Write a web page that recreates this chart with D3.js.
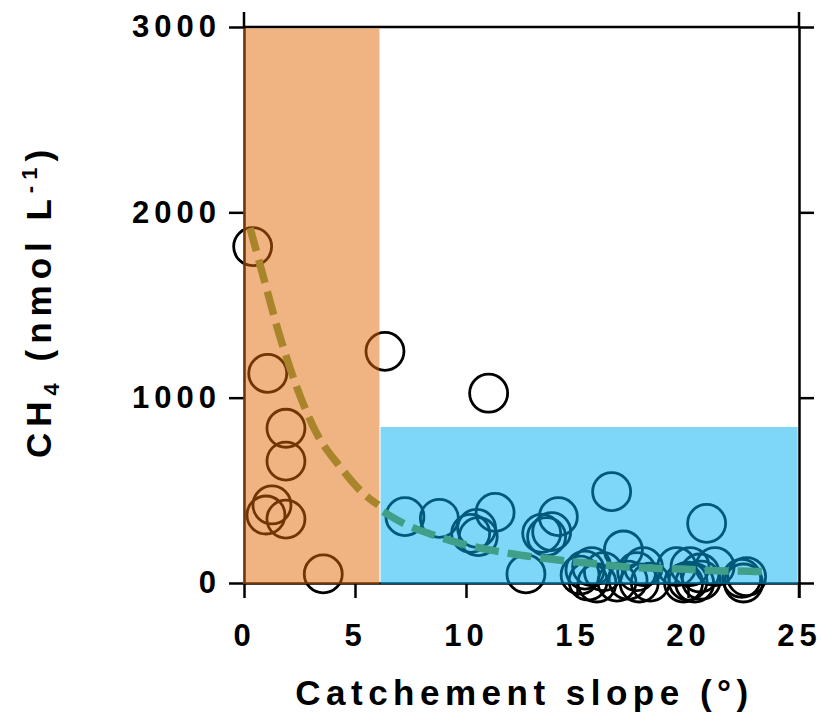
<!DOCTYPE html>
<html>
<head>
<meta charset="utf-8">
<script src="https://cdn.jsdelivr.net/npm/d3@7"></script>
<style>
body { margin: 0; background: #fff; }
text { font-family: "Liberation Sans", Arial, sans-serif; font-weight: bold; }
</style>
</head>
<body>
<div id="chart"></div>
<script>
// Catchement slope (deg) vs CH4 (nmol/L), one entry per site
const slope = [0.39, 1.07, 1.89, 1.89, 1.26, 0.99, 1.89, 3.57,
    6.35, 11.02,
    7.25, 8.8, 10.21, 10.48, 10.55, 11.31, 12.7, 13.41, 13.63, 13.86, 14.16, 16.56, 17.09, 20.84,
    15.14, 15.36, 15.66, 16.19, 17.69, 17.99, 19.49, 20.09, 20.54, 21.22, 22.42, 22.64,
    15.5, 15.9, 16.8, 17.3, 17.8, 18.3, 19.8, 20.0, 20.3, 20.6, 22.5];
const ch4 = [1815, 1131, 835, 658, 421, 367, 345, 49,
    1250, 1024,
    358, 349, 268, 295, 250, 381, 49, 268, 250, 277, 358, 493, 178, 322,
    43, 70, 88, 61, 61, 88, 88, 88, 54, 88, 25, 34,
    10, 0, 5, 15, 0, 5, 0, 10, 0, 15, 0];

// shaded slope classes
const bandStart = [0, 6.15];
const bandEnd = [6.1, 25];
const bandTop = [3000, 842];

// fitted decay curves
const gentleSlope = [0.27, 0.87, 1.62, 2.37, 3.27, 4.32, 5.37, 6.05];
const gentleCh4 = [1916, 1653, 1329, 1059, 808, 628, 484, 421];
const steepSlope = [6.27, 7.18, 8.53, 9.73, 11.31, 12.73, 14.16, 15.59, 17.09, 18.44, 19.94, 21.29, 22.79, 23.39];
const steepCh4 = [385, 322, 259, 214, 173, 146, 124, 106, 88, 79, 74, 66, 64, 61];

const xTicks = [0, 5, 10, 15, 20, 25];
const yTicks = [0, 1000, 2000, 3000];

const width = 821;
const height = 713;
const margin = {top: 27, left: 244, right: 22, bottom: 130};

const bandColors = ["rgb(225,105,5)", "rgb(0,176,242)"];
const curveColors = ["#a8842a", "#3f9f89"];

const svg = d3.select("#chart")
    .append("svg")
    .attr("width", width)
    .attr("height", height);

const xScale = d3.scaleLinear()
    .domain([0, 25])
    .range([margin.left, width - margin.right]);

const yScale = d3.scaleLinear()
    .domain([0, 3000])
    .range([height - margin.bottom, margin.top]);

function styleAxis(g) {
    g.selectAll("path, line").attr("stroke", "#000").attr("stroke-width", 2.5);
    g.selectAll("text")
        .attr("fill", "#000")
        .style("font-size", "31px")
        .style("letter-spacing", "5px");
}

// axes
svg.append("g")
    .attr("transform", `translate(0,${yScale(0)})`)
    .call(d3.axisBottom(xScale).tickValues(xTicks).tickSize(15).tickSizeOuter(0).tickPadding(26))
    .call(styleAxis);

svg.append("g")
    .attr("transform", `translate(${xScale(0)},0)`)
    .call(d3.axisLeft(yScale).tickValues(yTicks).tickFormat(d3.format("d")).tickSize(15).tickSizeOuter(0).tickPadding(8))
    .call(styleAxis);

svg.append("g")
    .attr("transform", `translate(${xScale(25)},0)`)
    .call(d3.axisRight(yScale).tickValues(yTicks).tickSize(15).tickSizeOuter(0).tickFormat(""))
    .call(styleAxis);

// frame top and axis extensions
svg.append("line")
    .attr("x1", xScale(0)).attr("x2", xScale(25))
    .attr("y1", yScale(3000)).attr("y2", yScale(3000))
    .attr("stroke", "#000").attr("stroke-width", 2.5);
[xScale(0), xScale(25)].forEach(function(px) {
    svg.append("line")
        .attr("x1", px).attr("x2", px)
        .attr("y1", yScale(3000) - 15).attr("y2", yScale(3000))
        .attr("stroke", "#000").attr("stroke-width", 2.5);
});
svg.append("line")
    .attr("x1", xScale(25)).attr("x2", xScale(25))
    .attr("y1", yScale(0)).attr("y2", yScale(0) + 15)
    .attr("stroke", "#000").attr("stroke-width", 2.5);

// points
svg.append("g")
    .selectAll("circle")
    .data(slope)
    .enter()
    .append("circle")
        .attr("cx", function(d) { return xScale(d); })
        .attr("cy", function(d, i) { return yScale(ch4[i]); })
        .attr("r", 19)
        .attr("fill", "none")
        .attr("stroke", "#000")
        .attr("stroke-width", 2.8);

// translucent bands laid over points
svg.append("g")
    .selectAll("rect")
    .data(bandStart)
    .enter()
    .append("rect")
        .attr("x", function(d, i) { return xScale(d) - (i === 0 ? 1 : 0); })
        .attr("y", function(d, i) { return yScale(bandTop[i]) + (i === 0 ? 1.3 : 0); })
        .attr("width", function(d, i) { return xScale(bandEnd[i]) - xScale(d) + (i === 0 ? 1 : -1.3); })
        .attr("height", function(d, i) { return yScale(0) - yScale(bandTop[i]) + 1 - (i === 0 ? 1.3 : 0); })
        .attr("fill", function(d, i) { return bandColors[i]; })
        .attr("fill-opacity", 0.5);

// dashed fits
const line = d3.line()
    .x(function(d) { return xScale(d[0]); })
    .y(function(d) { return yScale(d[1]); })
    .curve(d3.curveMonotoneX);

[[gentleSlope, gentleCh4], [steepSlope, steepCh4]].forEach(function(c, k) {
    svg.append("path")
        .datum(c[0].map(function(v, i) { return [v, c[1][i]]; }))
        .attr("d", line)
        .attr("fill", "none")
        .attr("stroke", curveColors[k])
        .attr("stroke-width", 7.5)
        .attr("stroke-dasharray", "24,9");
});

// axis titles
svg.append("text")
    .attr("x", (xScale(0) + xScale(25)) / 2 + 3)
    .attr("y", 705)
    .attr("text-anchor", "middle")
    .style("font-size", "35px")
    .style("letter-spacing", "5.5px")
    .text("Catchement slope (°)");

const yTitle = svg.append("text")
    .attr("transform", `translate(51,${(yScale(0) + yScale(3000)) / 2 - 4}) rotate(-90)`)
    .attr("text-anchor", "middle")
    .style("font-size", "35px")
    .style("letter-spacing", "6px");
yTitle.append("tspan").text("CH");
yTitle.append("tspan").attr("dy", 8).style("font-size", "22px").text("4");
yTitle.append("tspan").attr("dy", -8).text(" (nmol L");
yTitle.append("tspan").attr("dy", -14).style("font-size", "22px").text("-1");
yTitle.append("tspan").attr("dy", 14).text(")");
</script>
</body>
</html>
